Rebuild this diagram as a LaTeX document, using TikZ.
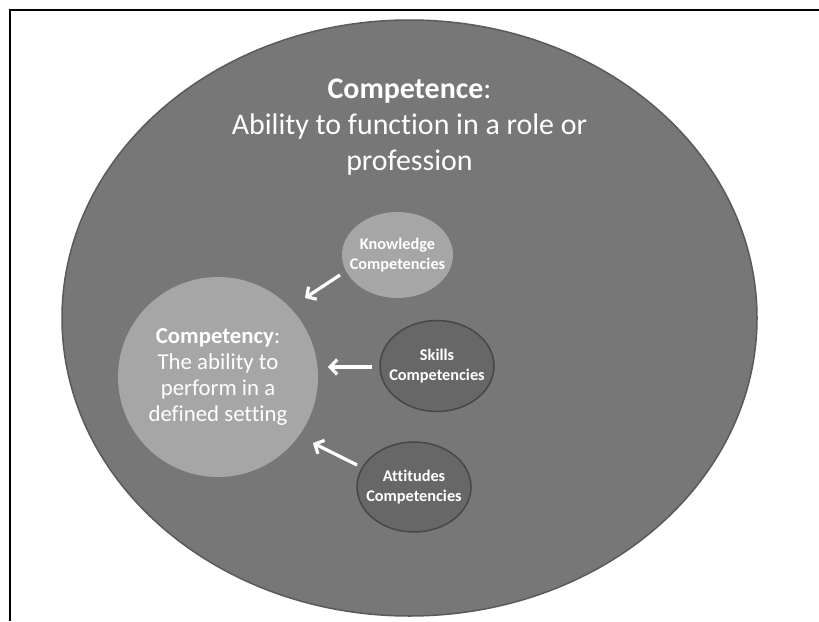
\documentclass[tikz,border=0pt]{standalone}
\usepackage{fontspec}
\setmainfont{Carlito}[Ligatures={NoCommon}]
\usetikzlibrary{arrows.meta,shapes.geometric}
\definecolor{outerfill}{HTML}{777777}
\definecolor{outerline}{HTML}{5A5A5A}
\definecolor{lightfill}{HTML}{A6A6A6}
\definecolor{darkfill}{HTML}{676767}
\definecolor{darkline}{HTML}{474747}
\tikzset{
  bubble/.style={ellipse, inner xsep=-20pt, inner ysep=0pt, text=white, align=center},
  lightbubble/.style={bubble, fill=lightfill},
  darkbubble/.style={bubble, fill=darkfill, draw=darkline, line width=1.5pt},
  smalltext/.style={font=\fontsize{16.3}{20.5}\selectfont\bfseries},
  feed/.style={draw=white, line width=3.2pt, -{Straight Barb[length=7pt,width=15pt]}},
}
\begin{document}
\begin{tikzpicture}[x=1pt,y=-1pt]
\useasboundingbox (0,0) rectangle (819,621);
% frame
\draw[line width=1.6pt] (10,621) -- (10,10) -- (819,10);
% outer field: competence
\node[ellipse, minimum width=695, minimum height=596, fill=outerfill, draw=outerline, line width=1.5pt] (outer) at (409.5,318) {};
\node[text=white, align=center, font=\fontsize{29.9}{36}\selectfont] (title) at (409.5,127)
  {\textbf{Competence}:\\Ability to function in a role or\\profession};
% competency
\node[circle, minimum size=200, fill=lightfill, inner sep=0pt, text=white, align=center,
  font=\fontsize{22.8}{26}\selectfont] (cy) at (218,377)
  {\textbf{Competency}:\\The ability to\\perform in a\\defined setting};
% contributing competencies
\node[lightbubble, smalltext, minimum width=111, minimum height=86] (kn) at (397.5,255) {Knowledge\\Competencies};
\node[darkbubble, smalltext, minimum width=114, minimum height=91] (sk) at (437,366) {Skills\\Competencies};
\node[darkbubble, smalltext, minimum width=114, minimum height=90] (at) at (414,487) {Attitudes\\Competencies};
% arrows into competency
\coordinate (knA) at (340,275); \coordinate (knB) at (305,298);
\coordinate (skA) at (372,367); \coordinate (skB) at (328,367);
\coordinate (atA) at (357,465); \coordinate (atB) at (313,443);
\draw[feed] (knA) -- (knB);
\draw[feed] (skA) -- (skB);
\draw[feed] (atA) -- (atB);
\end{tikzpicture}
\end{document}
